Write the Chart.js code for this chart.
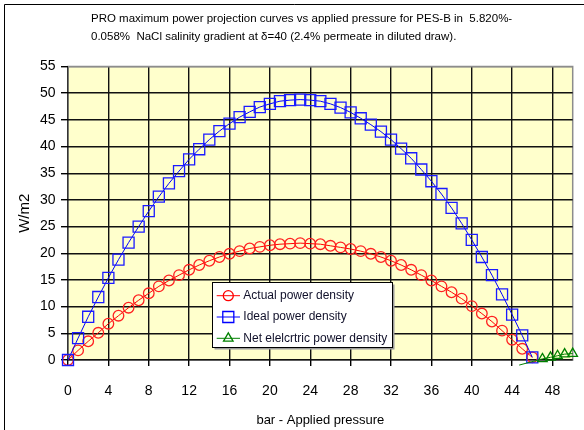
<!DOCTYPE html>
<html>
<head>
<meta charset="utf-8">
<script src="https://cdn.jsdelivr.net/npm/chart.js@4.4.1/dist/chart.umd.min.js"></script>
<style>
  body { margin: 0; background: #fff; }
</style>
</head>
<body>
<canvas id="pro" width="584" height="430"></canvas>
<script>
var titleLines = [
  'PRO maximum power projection curves vs applied pressure for PES-B in  5.820%-',
  '0.058%  NaCl salinity gradient at \u03b4=40 (2.4% permeate in diluted draw).'
];
var seriesNames = ['Actual power density', 'Ideal power density', 'Net elelcrtric power density'];

// bar
var pressure = [0, 1, 2, 3, 4, 5, 6, 7, 8, 9, 10, 11, 12, 13, 14, 15, 16, 17, 18, 19, 20, 21, 22, 23,
  24, 25, 26, 27, 28, 29, 30, 31, 32, 33, 34, 35, 36, 37, 38, 39, 40, 41, 42, 43, 44, 45, 46];
// W/m2
var actualPower = [0, 1.8, 3.5, 5.1, 6.8, 8.3, 9.8, 11.2, 12.5, 13.8, 14.9, 15.9, 16.9, 17.8, 18.6, 19.3,
  19.9, 20.4, 20.9, 21.2, 21.5, 21.7, 21.8, 21.9, 21.8, 21.7, 21.4, 21.1, 20.8, 20.4, 19.9, 19.3,
  18.6, 17.8, 16.9, 15.9, 14.9, 13.8, 12.7, 11.5, 10.1, 8.7, 7.2, 5.5, 3.8, 2.1, 0.5];
var idealPower = [0, 4.1, 8.1, 11.8, 15.4, 18.8, 22.0, 25.0, 27.9, 30.6, 33.1, 35.4, 37.6, 39.5, 41.3, 42.9,
  44.3, 45.5, 46.5, 47.4, 48.0, 48.5, 48.7, 48.8, 48.7, 48.5, 48.0, 47.3, 46.4, 45.3, 44.1, 42.8,
  41.3, 39.6, 37.8, 35.7, 33.5, 31.1, 28.5, 25.6, 22.5, 19.3, 15.9, 12.3, 8.5, 4.6, 0.5];
var netPressure = [44.7, 47.0, 47.8, 48.5, 49.2, 50.0];
var netPower = [-0.95, 0.2, 0.5, 0.8, 1.1, 1.2];

var FONT = '"Liberation Sans", Arial, sans-serif';

function toPoints(xs, ys) {
  return xs.map(function (x, i) { return { x: x, y: ys[i] }; });
}

var backdrop = {
  id: 'backdrop',
  beforeDraw: function (chart) {
    var ctx = chart.ctx, a = chart.chartArea;
    ctx.save();
    ctx.fillStyle = '#fff';
    ctx.fillRect(0, 0, chart.width, chart.height);
    // outer frame
    ctx.strokeStyle = '#000';
    ctx.lineWidth = 1;
    ctx.beginPath();
    ctx.moveTo(4.5, chart.height);
    ctx.lineTo(4.5, 4.5);
    ctx.lineTo(chart.width, 4.5);
    ctx.stroke();
    // plot area
    ctx.fillStyle = '#ffffcc';
    ctx.fillRect(a.left, a.top, a.right - a.left, a.bottom - a.top);
    ctx.strokeStyle = '#8c8c8c';
    ctx.lineWidth = 1.5;
    ctx.strokeRect(a.left, a.top, a.right - a.left, a.bottom - a.top);
    // title
    ctx.fillStyle = '#000';
    ctx.font = '11.5px ' + FONT;
    ctx.textBaseline = 'middle';
    ctx.textAlign = 'left';
    ctx.fillText(titleLines[0], 91, 18.6);
    ctx.fillText(titleLines[1], 91, 37.2);
    ctx.restore();
  },
  afterDraw: function (chart) {
    var ctx = chart.ctx;
    var bx = 212.5, by = 282.5, bw = 180, bh = 65;
    ctx.save();
    ctx.fillStyle = '#9a9a9a';
    ctx.fillRect(bx + 2, by + 2, bw, bh);
    ctx.fillStyle = '#fff';
    ctx.fillRect(bx, by, bw, bh);
    ctx.strokeStyle = '#000';
    ctx.lineWidth = 1;
    ctx.strokeRect(bx, by, bw, bh);
    chart.data.datasets.forEach(function (ds, i) {
      var y = by + 13.2 + i * 21.3;
      ctx.strokeStyle = ds.borderColor;
      ctx.lineWidth = 1;
      ctx.beginPath();
      ctx.moveTo(216.7, y);
      ctx.lineTo(240, y);
      ctx.stroke();
      ctx.lineWidth = ds.pointBorderWidth;
      ctx.fillStyle = 'rgba(0,0,0,0)';
      Chart.helpers.drawPoint(ctx, {
        pointStyle: ds.pointStyle,
        radius: ds.legendRadius,
        rotation: 0,
        borderWidth: ds.pointBorderWidth
      }, 228.3, y);
      ctx.fillStyle = '#10102a';
      ctx.font = '12px ' + FONT;
      ctx.textBaseline = 'middle';
      ctx.fillText(seriesNames[i], 243.3, y);
    });
    ctx.restore();
  }
};

var chart = new Chart(document.getElementById('pro').getContext('2d'), {
  type: 'scatter',
  data: {
    datasets: [
      {
        label: seriesNames[0],
        data: toPoints(pressure, actualPower),
        showLine: true,
        borderColor: '#ff0000',
        borderWidth: 1,
        pointStyle: 'circle',
        pointRadius: 5.3,
        legendRadius: 5,
        pointBorderWidth: 1.3,
        pointBorderColor: '#ff2020',
        pointBackgroundColor: 'rgba(0,0,0,0)',
        clip: false,
        order: 2
      },
      {
        label: seriesNames[1],
        data: toPoints(pressure, idealPower),
        showLine: true,
        borderColor: '#0000ff',
        borderWidth: 1,
        pointStyle: 'rect',
        pointRadius: 7.8,
        legendRadius: 7.8,
        pointBorderWidth: 1.3,
        pointBorderColor: '#1a1aff',
        pointBackgroundColor: 'rgba(0,0,0,0)',
        clip: false,
        order: 1
      },
      {
        label: seriesNames[2],
        data: toPoints(netPressure, netPower),
        showLine: true,
        borderColor: '#008000',
        borderWidth: 1,
        pointStyle: 'triangle',
        pointRadius: [0, 5.5, 5.5, 5.5, 5.5, 5.5],
        legendRadius: 5.5,
        pointBorderWidth: 1.3,
        pointBorderColor: '#008000',
        pointBackgroundColor: 'rgba(0,0,0,0)',
        clip: false,
        order: 0
      }
    ]
  },
  options: {
    responsive: false,
    animation: false,
    layout: { padding: { top: 66.5, right: 11.3, left: 0, bottom: 0 } },
    plugins: {
      legend: { display: false },
      title: { display: false },
      tooltip: { enabled: false }
    },
    scales: {
      x: {
        type: 'linear',
        min: 0,
        max: 50,
        afterFit: function (s) { s.height = 70; },
        border: { display: false },
        grid: {
          color: function (c) { return c.tick.value === 0 ? '#333' : '#111'; },
          lineWidth: 1.4,
          tickLength: 6,
          tickColor: '#000'
        },
        ticks: {
          stepSize: 4,
          includeBounds: false,
          padding: 17,
          color: '#000',
          font: { family: FONT, size: 14 }
        },
        title: {
          display: true,
          text: 'bar - Applied pressure',
          color: '#000',
          font: { family: FONT, size: 13 },
          padding: { top: 0, bottom: 1.5 }
        }
      },
      y: {
        min: 0,
        max: 55,
        afterFit: function (s) { s.width = 68; },
        border: { display: false },
        grid: {
          color: function (c) { return c.tick.value === 55 ? '#8c8c8c' : '#111'; },
          lineWidth: 1.4,
          tickLength: 7,
          tickColor: '#000'
        },
        ticks: {
          stepSize: 5,
          padding: 5.5,
          color: '#000',
          font: { family: FONT, size: 14 }
        },
        title: {
          display: true,
          text: 'W/m2',
          color: '#000',
          font: { family: FONT, size: 15 },
          padding: { top: 16, bottom: 0 }
        }
      }
    }
  },
  plugins: [backdrop]
});
</script>
</body>
</html>
